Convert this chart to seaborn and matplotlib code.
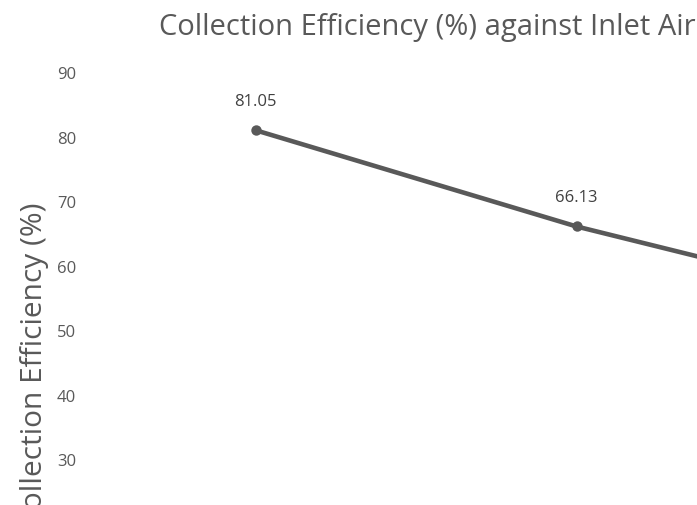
import matplotlib
matplotlib.use("Agg")
import matplotlib.pyplot as plt
import seaborn as sns
import pandas as pd

# Collection efficiency per inlet air velocity step
categories = ["1", "2", "3"]
efficiency = [81.05, 66.13, 53.8]
y_ticks = [30, 40, 50, 60, 70, 80, 90]

title_text = "Collection Efficiency (%) against Inlet Air"
y_label = "Collection Efficiency (%)"

sns.set_theme(style="white")
plt.rcParams["font.family"] = ["Open Sans", "DejaVu Sans"]

df = pd.DataFrame({"pos": range(len(categories)), "eff": efficiency})

W, H = 697, 506
TOP = 73.5          # pixel row of the 90 gridline
PX_PER_UNIT = 6.45  # vertical pixels per percentage point
LEFT = 95           # plot area left edge in pixels
CAT_W = 321         # category width in pixels

fig = plt.figure(figsize=(W / 100, H / 100), dpi=100)
# plot area runs off the right and bottom edges of the canvas
ax = fig.add_axes([LEFT / W, 0, 1 - LEFT / W, 1 - TOP / H])

line_color = "#595959"
sns.lineplot(data=df, x="pos", y="eff", ax=ax, color=line_color, linewidth=3.3,
             marker="o", markersize=7.5, markeredgewidth=0)

ax.set_yticks(y_ticks)
ax.set_yticklabels([str(t) for t in y_ticks])
ax.set_xticks([])
ax.set_xlim(-0.5, -0.5 + (W - LEFT) / CAT_W)
ax.set_ylim(90 - (H - TOP) / PX_PER_UNIT, 90)
ax.tick_params(axis="y", length=0, pad=13.5, labelsize=12, labelcolor="#595959")
ax.set_xlabel("")
ax.set_ylabel("")
for s in ax.spines.values():
    s.set_visible(False)

for x, v in zip(df["pos"], df["eff"]):
    ax.annotate(f"{v:.2f}", xy=(x, v), xytext=(0, 21), textcoords="offset points",
                ha="center", va="center", fontsize=12, color="#404040")

fig.text(159 / W, 1 - 35 / H, title_text, ha="left", va="baseline",
         fontsize=21, color="#595959")
fig.text(42 / W, 1 - 203 / H, y_label, rotation=90, rotation_mode="anchor",
         ha="right", va="baseline", fontsize=21.5, color="#595959")

fig.savefig("out.png", dpi=100)
